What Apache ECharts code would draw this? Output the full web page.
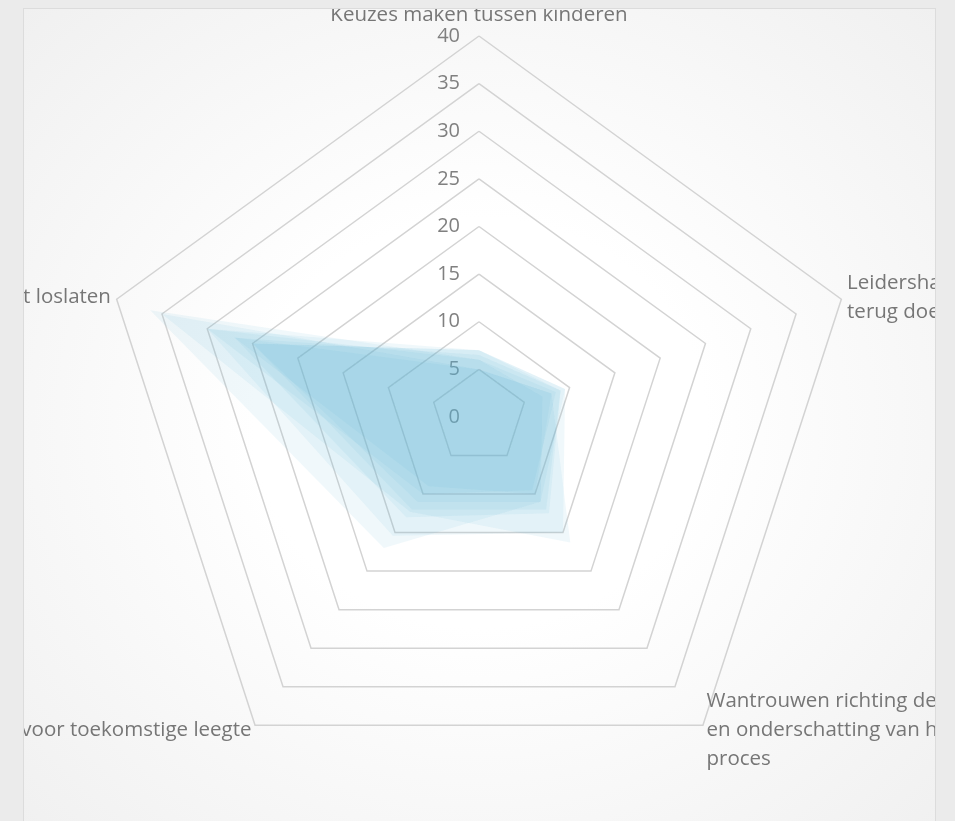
<!DOCTYPE html>
<html>
<head>
<meta charset="utf-8">
<script src="https://cdn.jsdelivr.net/npm/echarts@6/dist/echarts.min.js"></script>
<style>
  html, body { margin: 0; padding: 0; width: 955px; height: 821px; overflow: hidden; background: #ebebeb; }
  #frame {
    position: absolute; left: 23px; top: 8px; width: 913px; height: 830px;
    box-sizing: border-box; border: 1px solid #dcdcdc; overflow: hidden;
    background: radial-gradient(ellipse at 50% 50%, #ffffff 35%, #f0f0f0 100%);
  }
  #chart { position: absolute; left: -24px; top: -9px; width: 955px; height: 821px; }
</style>
</head>
<body>
<div id="frame"><div id="chart"></div></div>
<script>
// Radar axes, listed counter-clockwise starting at the top
const axisNames = [
  'Keuzes maken tussen kinderen',
  'Controle niet loslaten',
  'Angst voor toekomstige leegte',
  'Wantrouwen richting de kinderen\nen onderschatting van het\nproces',
  'Leidershap aan kinderen\nterug doen'
];

// Ring values (scale of every axis)
const ringTicks = [0, 5, 10, 15, 20, 25, 30, 35, 40];

// One score profile per respondent, same order as axisNames
const respondentA = [6, 36.3, 17, 11, 7];
const respondentB = [5, 35, 12.3, 16.3, 8];
const respondentC = [7, 30, 15.4, 15, 9.5];
const respondentD = [6.5, 27, 13, 12.5, 9];
const respondentE = [7, 25, 11, 11, 9.5];
const respondentF = [6, 30, 10, 9.5, 8.5];
const respondentG = [5, 27, 9, 10, 8];
const respondentH = [7, 25, 12, 12, 9];

const profiles = [respondentA, respondentB, respondentC, respondentD,
                  respondentE, respondentF, respondentG, respondentH];

const tickMin = ringTicks[0];
const tickMax = ringTicks[ringTicks.length - 1];
const tickStep = ringTicks[1] - ringTicks[0];

const chart = echarts.init(document.getElementById('chart'), null, { renderer: 'canvas' });

chart.setOption({
  animation: false,
  backgroundColor: 'transparent',
  radar: {
    center: [479, 417],
    radius: 381,
    startAngle: 90,
    shape: 'polygon',
    splitNumber: ringTicks.length - 1,
    nameGap: 6,
    indicator: axisNames.map(n => ({ name: n, min: tickMin, max: tickMax })),
    axisName: {
      color: '#767676',
      fontFamily: 'Open Sans',
      fontSize: 20.5,
      lineHeight: 29
    },
    axisLine: { show: false },
    axisTick: { show: false },
    axisLabel: { show: false },
    splitArea: { show: false },
    splitLine: { lineStyle: { color: '#d3d3d3', width: 1.5 } }
  },
  // value scale printed along the upper axis
  grid: { left: 479, top: 36, height: 381, width: 10 },
  xAxis: { type: 'value', show: false },
  yAxis: {
    type: 'value',
    min: tickMin,
    max: tickMax,
    interval: tickStep,
    axisLine: { show: false },
    axisTick: { show: false },
    splitLine: { show: false },
    axisLabel: {
      color: '#808080',
      fontFamily: 'Open Sans',
      fontSize: 20,
      margin: 19
    }
  },
  series: [{
    type: 'radar',
    symbol: 'none',
    z: 1,
    lineStyle: { width: 0 },
    areaStyle: { color: '#5bb6d0', opacity: 0.095 },
    data: profiles.map((v, i) => ({ name: 'R' + (i + 1), value: v }))
  }]
});
</script>
</body>
</html>
